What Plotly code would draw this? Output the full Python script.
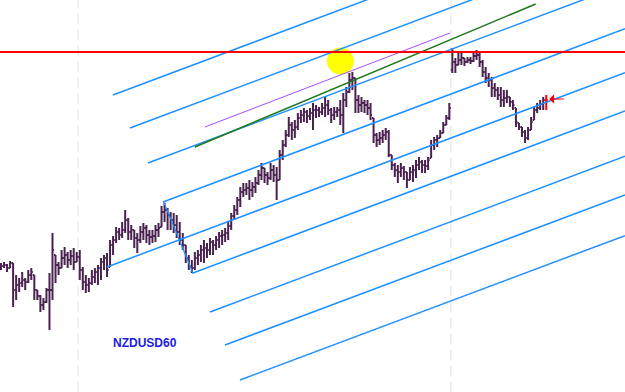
import plotly.graph_objects as go

# ---- price bars (levels; axis is reversed: smaller = higher) ----
bar_time = list(range(181))
bar_open = [265,266,265,268,263,290,285,283,280,282,275,275,290,296,305,302,290,290,255,265,
            268,258,255,260,256,262,257,270,282,285,283,277,272,268,262,258,267,245,240,232,
            235,230,220,232,230,238,240,232,228,235,237,236,230,227,212,210,215,220,225,232,
            240,245,258,266,268,258,255,250,248,250,242,245,240,236,235,233,226,216,210,200,
            192,190,188,190,187,183,175,168,175,178,170,175,180,155,145,135,125,130,127,118,
            115,112,116,113,110,110,112,108,105,110,115,112,110,115,100,92,80,78,100,105,
            103,105,108,118,135,140,138,135,132,155,165,170,172,168,172,180,172,170,165,162,
            165,166,158,145,140,138,133,125,118,70,62,65,60,58,62,60,61,56,55,62,
            72,78,80,88,90,95,100,98,97,102,108,123,127,132,138,130,120,110,108,104,
            100]
bar_high = [263,262,264,261,263,275,278,272,278,270,268,275,290,295,298,288,273,233,255,262,
            250,247,252,250,248,252,250,267,275,278,270,268,265,258,255,253,240,236,227,228,
            222,210,218,225,230,233,226,223,225,230,230,225,223,206,203,208,212,213,215,222,
            233,245,255,260,252,250,245,240,243,238,240,236,232,230,228,222,213,205,197,187,
            183,183,180,182,177,170,163,168,172,163,165,167,150,140,130,117,122,120,113,110,
            108,110,108,103,105,107,103,97,100,108,107,107,100,93,87,73,72,78,95,97,
            100,100,103,118,133,132,130,128,130,155,163,165,163,166,172,167,165,160,157,160,
            160,157,140,137,135,130,122,115,103,48,58,53,52,58,57,57,52,50,53,60,
            67,73,77,83,87,87,90,90,97,100,108,123,127,130,127,117,107,103,100,97,
            95]
bar_low = [270,268,272,268,307,300,292,287,290,283,280,300,300,312,310,303,330,300,283,275,
           268,265,268,265,270,262,280,290,293,292,285,283,285,280,270,277,267,255,243,240,
           238,233,240,240,248,253,243,240,243,245,243,242,237,227,222,230,230,233,238,245,
           250,263,270,273,270,265,262,263,258,255,255,250,248,245,242,240,230,220,215,207,
           197,195,200,197,193,185,180,183,185,180,182,200,180,160,147,137,140,138,130,123,
           122,123,120,130,118,117,115,117,115,123,120,117,125,133,107,93,90,113,113,112,
           113,115,120,143,147,145,143,140,157,170,177,183,177,180,188,180,182,178,170,173,
           173,170,158,150,147,138,133,125,120,73,73,65,65,66,63,64,62,60,67,77,
           83,87,97,97,100,107,107,103,107,110,127,130,137,143,140,130,120,113,110,110,
           110]
bar_close = [266,265,268,263,290,285,283,280,282,275,272,290,296,305,302,290,290,250,265,268,
             258,255,260,256,262,257,270,282,285,283,277,272,268,262,258,270,245,240,232,235,
             230,220,232,230,238,240,232,228,235,237,236,230,228,212,210,215,220,225,232,240,
             245,258,266,268,258,255,250,248,250,242,245,240,236,235,233,226,216,210,200,192,
             190,188,190,187,183,175,168,175,178,170,175,180,155,145,135,125,130,127,118,115,
             112,116,113,110,110,112,108,105,110,115,112,110,115,100,92,80,78,100,105,103,
             105,108,115,135,140,138,135,132,155,165,170,172,168,172,180,172,170,165,162,165,
             166,160,145,140,138,133,125,118,108,62,65,60,58,62,60,61,56,55,62,72,
             78,80,88,90,95,100,98,97,102,105,122,127,132,138,130,122,110,108,104,100,
             100]

# ---- drawn analysis objects (time, level) ----
channel_t0 = [36.96, 42.57, 48.51, 53.47, 34.98, 63.37, 68.98, 73.93, 78.88]
channel_v0 = [95, 128, 163, 202, 267, 273, 312, 345, 380]
channel_t1 = [206, 206, 206, 206, 206, 206, 206, 206, 206]
channel_v1 = [-97, -57.7, -15.9, 28.7, 72.7, 111, 156.3, 195, 235.6]
connector_t = [53.7, 63.47]
connector_v = [201.7, 274]
green_t = [64.0, 176.5]
green_v = [147, 4]
violet_t = [67.3, 148.2]
violet_v = [127, 33]
resistance_level = 52
separator_times = [25.5, 148.5]
symbol_label = "NZDUSD60"

BLUE = "#1e90ff"
BAR = "#4a2250"

fig = go.Figure()

for t0, v0, t1, v1 in zip(channel_t0, channel_v0, channel_t1, channel_v1):
    fig.add_trace(go.Scatter(x=[t0, t1], y=[v0, v1], mode="lines",
                             line=dict(color=BLUE, width=1.5), hoverinfo="skip"))
fig.add_trace(go.Scatter(x=connector_t, y=connector_v, mode="lines",
                         line=dict(color=BLUE, width=1.2), hoverinfo="skip"))
fig.add_trace(go.Scatter(x=green_t, y=green_v, mode="lines",
                         line=dict(color="#1f7a1f", width=1.5), hoverinfo="skip"))
fig.add_trace(go.Scatter(x=violet_t, y=violet_v, mode="lines",
                         line=dict(color="#a64dff", width=1), hoverinfo="skip"))

fig.add_trace(go.Ohlc(x=bar_time[:-1], open=bar_open[:-1], high=bar_high[:-1],
                      low=bar_low[:-1], close=bar_close[:-1], tickwidth=0.5,
                      increasing=dict(line=dict(color=BAR, width=2)),
                      decreasing=dict(line=dict(color=BAR, width=2))))
fig.add_trace(go.Ohlc(x=bar_time[-1:], open=bar_open[-1:], high=bar_high[-1:],
                      low=bar_low[-1:], close=bar_close[-1:], tickwidth=0.5,
                      increasing=dict(line=dict(color="#ff0000", width=2)),
                      decreasing=dict(line=dict(color="#ff0000", width=2))))

shapes = []
for st in separator_times:
    shapes.append(dict(type="line", xref="x", yref="paper", x0=st, x1=st, y0=0, y1=1,
                       line=dict(color="#ebebeb", width=1.5, dash="10px,6px"), layer="below"))
shapes.append(dict(type="line", xref="paper", yref="y", x0=0, x1=1,
                   y0=resistance_level, y1=resistance_level,
                   line=dict(color="#ff0000", width=2)))
shapes.append(dict(type="circle", xref="x", yref="y", x0=107.6, x1=116.5, y0=47.5, y1=74.5,
                   fillcolor="#ffff00", line=dict(color="#ffff00", width=0), layer="below"))

fig.update_layout(
    width=625, height=392, margin=dict(l=0, r=0, t=0, b=0),
    paper_bgcolor="white", plot_bgcolor="white", showlegend=False,
    xaxis=dict(range=[-0.33, 206.0], visible=False, rangeslider=dict(visible=False)),
    yaxis=dict(range=[392, 0], visible=False),
    shapes=shapes,
    annotations=[
        dict(x=47.5, y=343, xref="x", yref="y", text="<b>" + symbol_label + "</b>",
             showarrow=False, font=dict(family="Liberation Sans, Arial", size=12, color="#1c1ce6")),
        dict(x=181.0, y=99, xref="x", yref="y", text="", showarrow=True,
             ax=16, ay=0, arrowhead=1, arrowsize=1.6, arrowwidth=1, arrowcolor="#ff0000"),
    ],
)

fig.write_html("out.html")
